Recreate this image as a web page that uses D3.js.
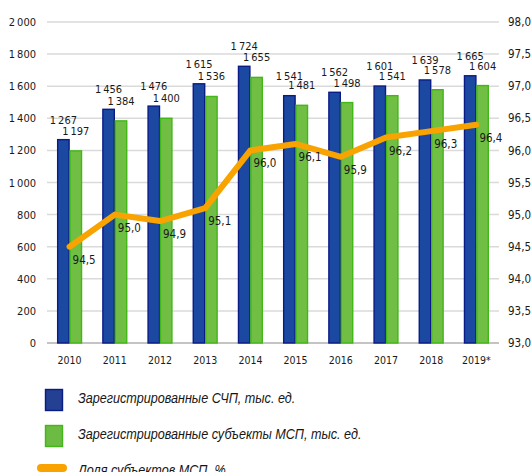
<!DOCTYPE html>
<html>
<head>
<meta charset="utf-8">
<script src="https://cdn.jsdelivr.net/npm/d3@7"></script>
<style>
  body { margin: 0; background: #fff; }
  svg text { font-family: "DejaVu Sans Condensed", "Liberation Sans", sans-serif; fill: #1a1a1a; }
  .legend text { font-family: "Liberation Sans", "Open Sans", sans-serif; font-style: italic; fill: #161616; }
</style>
</head>
<body>
<div id="chart"></div>
<script>
// data
var years = ['2010', '2011', '2012', '2013', '2014', '2015', '2016', '2017', '2018', '2019*'];
var schp = [1267, 1456, 1476, 1615, 1724, 1541, 1562, 1601, 1639, 1665];
var msp = [1197, 1384, 1400, 1536, 1655, 1481, 1498, 1541, 1578, 1604];
var share = [94.5, 95.0, 94.9, 95.1, 96.0, 96.1, 95.9, 96.2, 96.3, 96.4];
var leftTicks = [0, 200, 400, 600, 800, 1000, 1200, 1400, 1600, 1800, 2000];
var rightTicks = [93, 93.5, 94, 94.5, 95, 95.5, 96, 96.5, 97, 97.5, 98];
var legendNames = ['Зарегистрированные СЧП, тыс. ед.', 'Зарегистрированные субъекты МСП, тыс. ед.', 'Доля субъектов МСП, %'];

var width = 532, height = 472;
var blueFill = '#1b49a1', blueStroke = '#0b1b86';
var greenFill = '#70bf44', greenStroke = '#41b817';
var orange = '#f8a300';

var svg = d3.select('#chart').append('svg')
   .attr('width', width)
   .attr('height', height);

var x = d3.scaleBand().domain(years).range([47, 499]).paddingInner(0.45).paddingOuter(0.225);
var x1 = d3.scaleBand().domain(['schp', 'msp']).range([0, x.bandwidth()]);
var yL = d3.scaleLinear().domain([0, 2000]).range([343, 22]);
var yR = d3.scaleLinear().domain([93, 98]).range([343, 22]);

var fmtInt = function (d) { return d >= 1000 ? Math.floor(d / 1000) + '\u2009' + d3.format('03d')(d % 1000) : String(d); };
var fmtPct = function (d) { return d.toFixed(1).replace('.', ','); };

//gridlines
svg.append('g').selectAll('line')
   .data(leftTicks)
   .enter().append('line')
   .attr('x1', 47).attr('x2', 499)
   .attr('y1', function (d) { return yL(d); })
   .attr('y2', function (d) { return yL(d); })
   .attr('stroke', function (d) { return d === 0 ? '#c4c4c4' : '#dadada'; })
   .attr('stroke-width', function (d) { return d === 0 ? 2 : 1.5; });

//left axis
var axL = svg.append('g').attr('transform', 'translate(36,0)')
   .call(d3.axisLeft(yL).tickValues(leftTicks).tickSize(0).tickPadding(0).tickFormat(fmtInt));
axL.select('.domain').remove();
axL.selectAll('text').style('font-size', '11px').attr('fill', '#1a1a1a');

//right axis
var axR = svg.append('g').attr('transform', 'translate(508,0)')
   .call(d3.axisRight(yR).tickValues(rightTicks).tickSize(0).tickPadding(0).tickFormat(fmtPct));
axR.select('.domain').remove();
axR.selectAll('text').style('font-size', '11.5px').attr('fill', '#1a1a1a');

//x axis
var axX = svg.append('g').attr('transform', 'translate(0,357)')
   .call(d3.axisBottom(x).tickSize(0).tickPadding(0));
axX.select('.domain').remove();
axX.selectAll('text').style('font-size', '10.5px').attr('fill', '#1a1a1a');

//bars
var rows = years.map(function (y, i) { return {year: y, schp: schp[i], msp: msp[i], share: share[i]}; });
var groups = svg.append('g').selectAll('g')
   .data(rows)
   .enter().append('g')
   .attr('transform', function (d) { return 'translate(' + x(d.year) + ',0)'; });

groups.append('rect')
   .attr('x', x1('schp') + 0.5)
   .attr('width', x1.bandwidth() - 1)
   .attr('y', function (d) { return yL(d.schp); })
   .attr('height', function (d) { return yL(0) - yL(d.schp); })
   .attr('fill', blueFill).attr('stroke', blueStroke).attr('stroke-width', 1.4);

groups.append('rect')
   .attr('x', x1('msp') + 0.5)
   .attr('width', x1.bandwidth() - 1)
   .attr('y', function (d) { return yL(d.msp); })
   .attr('height', function (d) { return yL(0) - yL(d.msp); })
   .attr('fill', greenFill).attr('stroke', greenStroke).attr('stroke-width', 1.4);

groups.append('text')
   .attr('x', x1('schp') + x1.bandwidth() / 2)
   .attr('y', function (d) { return yL(d.schp) - 16; })
   .attr('text-anchor', 'middle')
   .style('font-size', '11px')
   .text(function (d) { return fmtInt(d.schp); });

groups.append('text')
   .attr('x', x1('msp') + x1.bandwidth() / 2)
   .attr('y', function (d) { return yL(d.msp) - 16; })
   .attr('text-anchor', 'middle')
   .style('font-size', '11px')
   .text(function (d) { return fmtInt(d.msp); });

//share line
var line = d3.line()
   .x(function (d) { return x(d.year) + x.bandwidth() / 2; })
   .y(function (d) { return yR(d.share); });

svg.append('path')
   .datum(rows)
   .attr('d', line)
   .attr('fill', 'none')
   .attr('stroke', orange)
   .attr('stroke-width', 6)
   .attr('stroke-linejoin', 'round')
   .attr('stroke-linecap', 'round');

svg.append('g').selectAll('text')
   .data(rows)
   .enter().append('text')
   .attr('x', function (d) { return x(d.year) + x.bandwidth() / 2 + 3; })
   .attr('y', function (d) { return yR(d.share) + 17; })
   .style('font-size', '11.5px')
   .text(function (d) { return fmtPct(d.share); });

//legend
var legend = svg.append('g').attr('class', 'legend');
legend.append('rect').attr('x', 45.5).attr('y', 389.5).attr('width', 17).attr('height', 21)
   .attr('fill', '#234092').attr('stroke', blueStroke).attr('stroke-width', 1.4);
legend.append('rect').attr('x', 45.5).attr('y', 425.5).attr('width', 17).attr('height', 21)
   .attr('fill', '#6cbb43').attr('stroke', greenStroke).attr('stroke-width', 1.4);
legend.append('line').attr('x1', 41).attr('x2', 63).attr('y1', 468).attr('y2', 468)
   .attr('stroke', orange).attr('stroke-width', 8).attr('stroke-linecap', 'round');
legend.selectAll('text')
   .data(legendNames)
   .enter().append('text')
   .attr('transform', function (d, i) { return 'translate(78,' + (403 + i * 36) + ') scale(0.87,1)'; })
   .style('font-size', '14.5px')
   .text(function (d) { return d; });
</script>
</body>
</html>
